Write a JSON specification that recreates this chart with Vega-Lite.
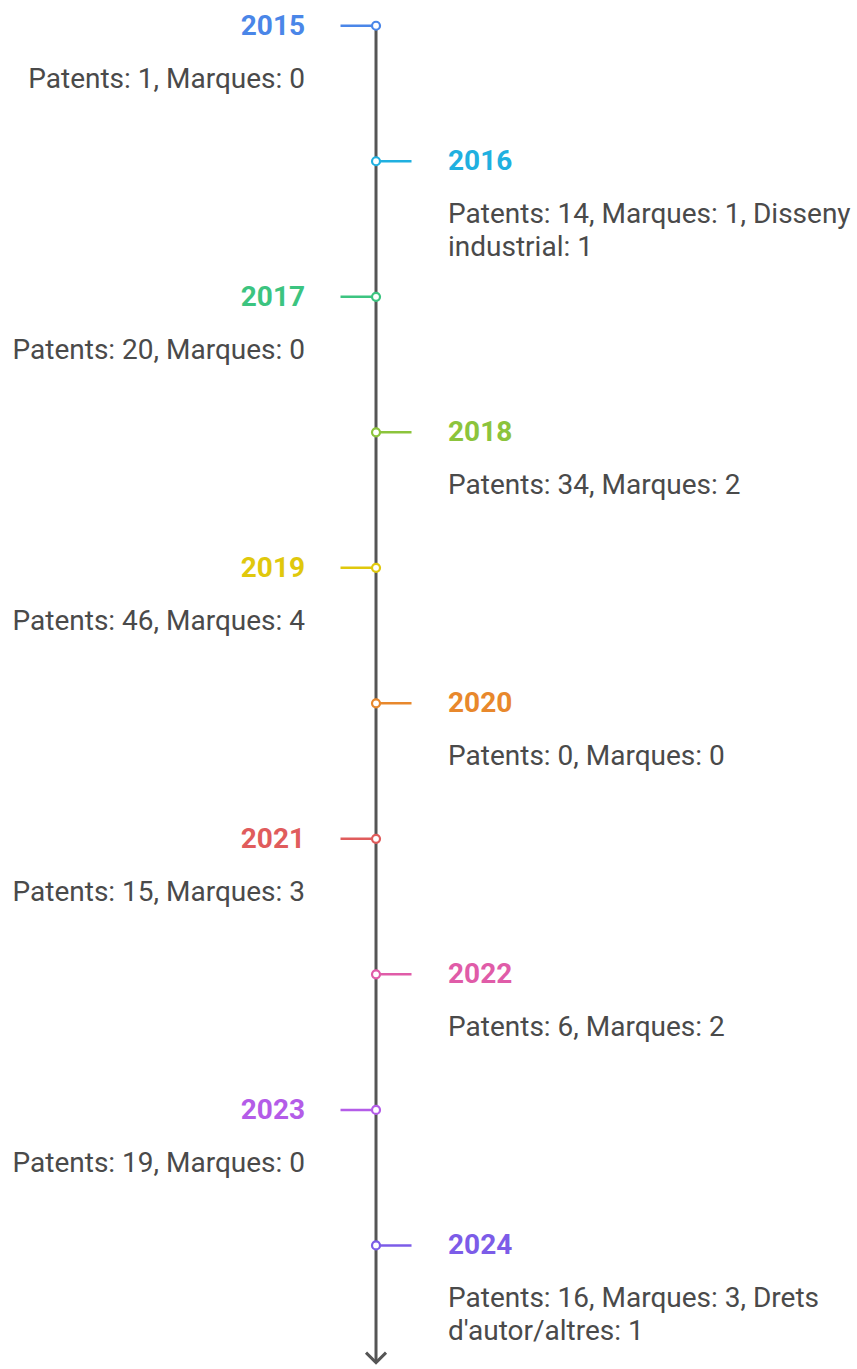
{
  "$schema": "https://vega.github.io/schema/vega-lite/v6.json",
  "width": 857,
  "height": 1369,
  "autosize": {"type": "fit", "contains": "padding"},
  "padding": 0,
  "background": "white",
  "config": {"view": {"stroke": null}},
  "data": {"values": [
    {"year": "2015", "i": 0, "side": -1, "desc": "Patents: 1, Marques: 0"},
    {"year": "2016", "i": 1, "side": 1, "desc": "Patents: 14, Marques: 1, Disseny\nindustrial: 1"},
    {"year": "2017", "i": 2, "side": -1, "desc": "Patents: 20, Marques: 0"},
    {"year": "2018", "i": 3, "side": 1, "desc": "Patents: 34, Marques: 2"},
    {"year": "2019", "i": 4, "side": -1, "desc": "Patents: 46, Marques: 4"},
    {"year": "2020", "i": 5, "side": 1, "desc": "Patents: 0, Marques: 0"},
    {"year": "2021", "i": 6, "side": -1, "desc": "Patents: 15, Marques: 3"},
    {"year": "2022", "i": 7, "side": 1, "desc": "Patents: 6, Marques: 2"},
    {"year": "2023", "i": 8, "side": -1, "desc": "Patents: 19, Marques: 0"},
    {"year": "2024", "i": 9, "side": 1, "desc": "Patents: 16, Marques: 3, Drets\nd'autor/altres: 1"}
  ]},
  "layer": [
    {
      "data": {"values": [{"a": 1}]},
      "mark": {"type": "rule", "stroke": "#555555", "strokeWidth": 3},
      "encoding": {
        "x": {"datum": 0, "type": "quantitative", "scale": {"domain": [-10.592, 13.549], "nice": false, "zero": false}, "axis": null},
        "y": {"datum": 0, "type": "quantitative", "scale": {"domain": [-0.19, 9.89], "reverse": true, "nice": false, "zero": false}, "axis": null},
        "y2": {"datum": 9.865}
      }
    },
    {
      "data": {"values": [{"a": 1}]},
      "mark": {"type": "point", "shape": "M-1,-1L0,0L1,-1", "filled": false, "stroke": "#555555", "strokeWidth": 3, "size": 400, "opacity": 1},
      "encoding": {
        "x": {"datum": 0, "type": "quantitative", "axis": null},
        "y": {"datum": 9.865, "type": "quantitative", "axis": null}
      }
    },
    {
      "mark": {"type": "rule", "strokeWidth": 2.5},
      "encoding": {
        "x": {"field": "side", "type": "quantitative", "axis": null},
        "x2": {"datum": 0},
        "y": {"field": "i", "type": "quantitative", "axis": null},
        "stroke": {"field": "year", "type": "nominal", "legend": null,
          "scale": {"domain": ["2015","2016","2017","2018","2019","2020","2021","2022","2023","2024"],
                    "range": ["#4a86e8","#20b0e0","#3cc480","#8cc43c","#e0c80c","#e8882c","#e05c5c","#e05ca8","#b45ce8","#7c5ce8"]}}
      }
    },
    {
      "mark": {"type": "point", "shape": "circle", "filled": true, "fill": "white", "size": 64, "strokeWidth": 2.2, "opacity": 1},
      "encoding": {
        "x": {"datum": 0, "type": "quantitative", "axis": null},
        "y": {"field": "i", "type": "quantitative", "axis": null},
        "stroke": {"field": "year", "type": "nominal", "legend": null}
      }
    },
    {
      "transform": [{"filter": "datum.side < 0"}],
      "mark": {"type": "text", "align": "right", "baseline": "middle", "dx": -35.5, "dy": 1, "font": "Roboto", "fontWeight": "bold", "fontSize": 28},
      "encoding": {
        "x": {"field": "side", "type": "quantitative", "axis": null},
        "y": {"field": "i", "type": "quantitative", "axis": null},
        "text": {"field": "year"},
        "color": {"field": "year", "type": "nominal", "legend": null,
          "scale": {"domain": ["2015","2016","2017","2018","2019","2020","2021","2022","2023","2024"],
                    "range": ["#4a86e8","#20b0e0","#3cc480","#8cc43c","#e0c80c","#e8882c","#e05c5c","#e05ca8","#b45ce8","#7c5ce8"]}}
      }
    },
    {
      "transform": [{"filter": "datum.side > 0"}],
      "mark": {"type": "text", "align": "left", "baseline": "middle", "dx": 36.5, "dy": 1, "font": "Roboto", "fontWeight": "bold", "fontSize": 28},
      "encoding": {
        "x": {"field": "side", "type": "quantitative", "axis": null},
        "y": {"field": "i", "type": "quantitative", "axis": null},
        "text": {"field": "year"},
        "color": {"field": "year", "type": "nominal", "legend": null}
      }
    },
    {
      "transform": [{"filter": "datum.side < 0"}],
      "mark": {"type": "text", "align": "right", "baseline": "top", "dx": -35.5, "dy": 40, "font": "Roboto", "fontSize": 28, "lineHeight": 33, "lineBreak": "\n", "color": "#4a4a4a"},
      "encoding": {
        "x": {"field": "side", "type": "quantitative", "axis": null},
        "y": {"field": "i", "type": "quantitative", "axis": null},
        "text": {"field": "desc"}
      }
    },
    {
      "transform": [{"filter": "datum.side > 0"}],
      "mark": {"type": "text", "align": "left", "baseline": "top", "dx": 36.5, "dy": 40, "font": "Roboto", "fontSize": 28, "lineHeight": 33, "lineBreak": "\n", "color": "#4a4a4a"},
      "encoding": {
        "x": {"field": "side", "type": "quantitative", "axis": null},
        "y": {"field": "i", "type": "quantitative", "axis": null},
        "text": {"field": "desc"}
      }
    }
  ]
}
